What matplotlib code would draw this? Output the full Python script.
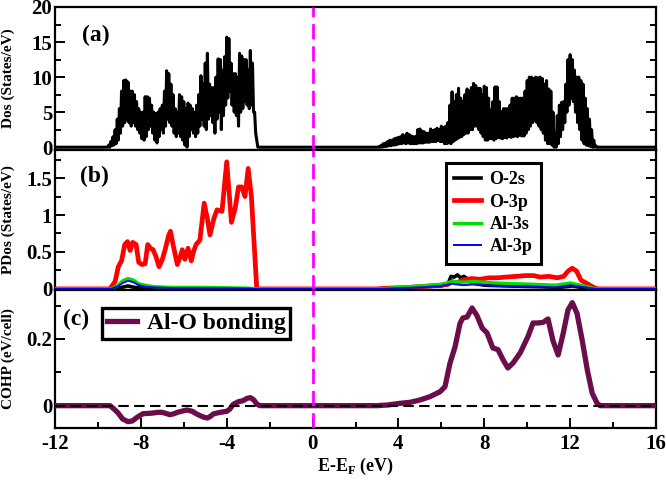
import numpy as np
import matplotlib
matplotlib.use("Agg")
import matplotlib.pyplot as plt
from matplotlib.ticker import MultipleLocator, FormatStrFormatter

plt.rcParams['font.family'] = ['Liberation Serif', 'DejaVu Serif']
plt.rcParams['font.weight'] = 'bold'
plt.rcParams['mathtext.fontset'] = 'custom'
plt.rcParams['mathtext.rm'] = 'Liberation Serif:bold'
plt.rcParams['mathtext.bf'] = 'Liberation Serif:bold'
plt.rcParams['axes.linewidth'] = 1.6
plt.rcParams['axes.unicode_minus'] = False

# ---------------- data: total DOS (upper / lower envelope of the oscillation) -------------
E_vb = np.round(np.arange(-9.6, -2.45, 0.1), 2)
dos_vb_hi = [0, 0.3, 0.8, 1.5, 2.5, 4.0, 5.5, 8.0, 9.5, 9.6,
             9.3, 8.0, 8.0, 7.5, 6.5, 5.5, 5.0, 5.0, 7.2, 7.2,
             7.0, 6.0, 5.0, 4.8, 5.0, 5.5, 6.0, 8.0, 10.9, 10.5,
             9.0, 7.5, 5.5, 5.0, 7.5, 7.2, 6.5, 5.5, 6.3, 6.0,
             5.5, 5.0, 6.0, 7.5, 10.2, 9.0, 12.0, 13.4, 9.0, 8.5,
             8.5, 10.0, 12.6, 12.5, 11.0, 12.9, 15.7, 15.5, 12.0, 10.5,
             10.5, 10.0, 13.4, 13.0, 12.5, 12.5, 11.0, 13.8, 12.0, 5.0,
             1.0, 0.0]
dos_vb_lo = [0, 0, 0.2, 0.3, 0.5, 1.0, 2.0, 3.0, 3.5, 4.0,
             3.5, 3.0, 3.5, 3.0, 2.5, 2.0, 1.2, 1.0, 1.5, 2.5,
             3.0, 2.0, 1.0, 0.6, 1.5, 2.5, 2.0, 3.0, 4.0, 3.5,
             3.0, 2.0, 1.5, 2.0, 1.5, 1.0, 0.3, 0.0, 1.5, 2.5,
             2.0, 1.5, 2.0, 3.0, 4.0, 3.0, 2.5, 4.0, 4.5, 3.5,
             2.0, 4.0, 5.0, 2.5, 4.5, 6.0, 7.0, 8.0, 6.0, 5.0,
             4.5, 3.0, 5.0, 5.5, 6.5, 6.0, 5.5, 6.0, 5.0, 2.0,
             0.0, 0.0]
E_cb = np.round(np.arange(3.0, 13.35, 0.1), 2)
dos_cb_hi = [0, 0.1, 0.3, 0.5, 0.6, 0.8, 1.0, 1.0, 1.2, 1.3,
             1.4, 1.5, 1.8, 1.6, 2.0, 1.8, 1.6, 1.5, 1.5, 2.5,
             2.6, 2.3, 2.2, 2.0, 2.0, 2.6, 2.4, 2.5, 2.7, 2.5,
             3.0, 2.8, 3.0, 3.5, 6.0, 7.9, 6.5, 7.5, 8.4, 7.0,
             6.5, 7.5, 8.3, 8.0, 8.5, 9.1, 8.8, 8.4, 8.4, 7.5,
             8.7, 8.5, 7.0, 5.3, 6.5, 8.6, 8.6, 6.5, 5.1, 5.5,
             5.5, 5.5, 6.0, 7.0, 7.0, 7.2, 7.0, 7.0, 7.0, 8.0,
             9.5, 10.0, 10.0, 9.8, 10.0, 9.9, 10.0, 9.8, 9.0, 9.5,
             8.3, 8.0, 5.0, 1.0, 4.5, 6.0, 6.4, 6.5, 9.0, 12.5,
             13.2, 12.5, 11.0, 10.0, 10.0, 9.5, 9.0, 7.0, 5.5, 4.0,
             2.5, 1.0, 0.2, 0]
dos_cb_lo = [0, 0, 0, 0.1, 0.1, 0.2, 0.2, 0.3, 0.3, 0.4,
             0.5, 0.5, 0.6, 0.5, 0.6, 0.5, 0.5, 0.5, 0.5, 0.6,
             0.6, 0.6, 0.7, 0.7, 0.7, 0.8, 0.8, 0.8, 1.0, 0.8,
             0.8, 0.5, 0.5, 0.6, 0.5, 0.8, 1.0, 1.2, 1.4, 1.5,
             1.8, 2.0, 2.0, 2.5, 2.5, 3.0, 3.0, 2.5, 2.0, 1.5,
             1.0, 1.0, 1.2, 1.2, 1.0, 1.2, 1.4, 1.3, 1.2, 1.4,
             1.3, 1.5, 1.4, 1.5, 1.6, 1.5, 1.7, 1.6, 1.6, 2.0,
             2.5, 3.0, 3.5, 3.8, 3.5, 3.0, 2.5, 2.0, 1.0, 0.5,
             0.5, 0.3, 0, 0, 0.5, 1.5, 2.5, 3.5, 5.0, 6.0,
             7.0, 6.5, 5.0, 3.5, 2.5, 1.0, 0.5, 0.3, 0.2, 0.1,
             0, 0, 0, 0]

# ---------------- data: partial DOS ----------------
E_o3p = [-12, -9.44, -9.2, -9.05, -8.9, -8.75, -8.62, -8.5, -8.38, -8.22,
         -8.1, -7.95, -7.8, -7.68, -7.55, -7.43, -7.3, -7.15, -7.0, -6.87,
         -6.7, -6.62, -6.5, -6.3, -6.15, -6.07, -5.95, -5.8, -5.65, -5.55,
         -5.43, -5.25, -5.05, -4.9, -4.78, -4.6, -4.45, -4.22, -4.0, -3.78,
         -3.6, -3.45, -3.3, -3.15, -3.0, -2.85, -2.6, 3.0, 3.5, 4.5,
         5.5, 6.3, 6.5, 6.7, 7.0, 7.4, 7.8, 8.2, 8.6, 9.0,
         9.5, 9.9, 10.3, 10.6, 11.0, 11.4, 11.7, 11.9, 12.1, 12.3,
         12.5, 12.8, 13.1, 13.3, 16]
pdos_o3p = [0, 0, 0.1, 0.3, 0.38, 0.6, 0.64, 0.52, 0.63, 0.6,
            0.36, 0.33, 0.34, 0.6, 0.55, 0.53, 0.44, 0.3, 0.4, 0.53,
            0.73, 0.78, 0.6, 0.33, 0.45, 0.53, 0.4, 0.55, 0.38, 0.5,
            0.6, 0.66, 1.16, 0.95, 0.73, 0.95, 1.07, 1.05, 1.72, 0.9,
            1.1, 1.38, 1.38, 1.25, 1.63, 1.25, 0, 0, 0.01, 0.02,
            0.04, 0.06, 0.1, 0.08, 0.12, 0.14, 0.13, 0.15, 0.15, 0.16,
            0.17, 0.18, 0.18, 0.16, 0.17, 0.15, 0.17, 0.24, 0.28, 0.24,
            0.12, 0.07, 0.02, 0, 0]
E_o2s = [-12, -9.3, -8.9, -8.6, -8.3, -7.5, -2.6, 3.0, 4.5, 6.0,
         6.3, 6.45, 6.6, 6.75, 6.9, 7.05, 7.2, 7.4, 8.0, 9.0,
         10.5, 11.5, 12.1, 12.5, 13.2, 16]
pdos_o2s = [0, 0, 0.02, 0.04, 0.02, 0.005, 0, 0, 0.02, 0.04,
            0.06, 0.17, 0.16, 0.19, 0.15, 0.17, 0.14, 0.08, 0.05, 0.04,
            0.03, 0.02, 0.04, 0.02, 0, 0]
E_al = [-12, -9.4, -9.1, -8.85, -8.6, -8.35, -8.1, -7.8, -7.4, -6.5,
        -5.0, -3.0, -2.6, 3.2, 4.0, 5.0, 6.0, 6.5, 7.0, 7.5,
        8.5, 9.5, 10.5, 11.3, 12.0, 12.5, 13.2, 16]
pdos_al3s = [0, 0, 0.04, 0.11, 0.14, 0.12, 0.07, 0.05, 0.03, 0.02,
             0.02, 0.01, 0, 0, 0.02, 0.04, 0.06, 0.1, 0.09, 0.1,
             0.08, 0.07, 0.06, 0.05, 0.08, 0.05, 0, 0]
pdos_al3p = [0, 0, 0.03, 0.08, 0.11, 0.09, 0.05, 0.03, 0.02, 0.01,
             0.01, 0.005, 0, 0, 0.01, 0.02, 0.04, 0.07, 0.05, 0.06,
             0.04, 0.04, 0.03, 0.02, 0.05, 0.03, 0, 0]

# ---------------- data: COHP ----------------
E_cohp = [-12, -9.6, -9.44, -9.25, -9.06, -8.85, -8.6, -8.4, -8.2, -7.9,
          -7.6, -7.43, -7.2, -7.0, -6.8, -6.64, -6.45, -6.3, -6.05, -5.85,
          -5.6, -5.4, -5.24, -5.05, -4.9, -4.75, -4.63, -4.45, -4.3, -4.0,
          -3.85, -3.7, -3.45, -3.24, -3.05, -2.9, -2.75, -2.6, -2.45, 0,
          3.0, 3.5, 4.07, 4.54, 5.0, 5.47, 5.94, 6.17, 6.4, 6.64,
          6.87, 7.0, 7.2, 7.43, 7.66, 7.9, 8.13, 8.4, 8.64, 8.88,
          9.1, 9.34, 9.67, 10.04, 10.27, 10.5, 10.74, 10.97, 11.2, 11.44,
          11.67, 11.9, 12.1, 12.32, 12.56, 12.8, 13.03, 13.26, 13.4, 16]
cohp = [0, 0, 0, -0.01, -0.022, -0.04, -0.048, -0.046, -0.036, -0.024,
        -0.023, -0.022, -0.02, -0.02, -0.024, -0.027, -0.024, -0.02, -0.016, -0.013,
        -0.017, -0.025, -0.03, -0.035, -0.037, -0.032, -0.025, -0.022, -0.02, -0.017,
        -0.01, 0.004, 0.012, 0.015, 0.022, 0.024, 0.018, 0.005, 0, 0,
        0, 0.002, 0.007, 0.01, 0.017, 0.027, 0.042, 0.057, 0.127, 0.177,
        0.247, 0.263, 0.266, 0.293, 0.27, 0.233, 0.218, 0.173, 0.168, 0.137,
        0.113, 0.128, 0.158, 0.208, 0.248, 0.248, 0.25, 0.26, 0.195, 0.152,
        0.215, 0.287, 0.309, 0.277, 0.197, 0.107, 0.037, 0.007, 0, 0]

xticks = [-12, -8, -4, 0, 4, 8, 12, 16]
pdos_labels = ['O-2s', 'O-3p', 'Al-3s', 'Al-3p']
cohp_label = 'Al-O bonding'


def zigzag(E, hi, lo):
    xs, ys = [], []
    for e, h, l in zip(E, hi, lo):
        xs += [e, e + 0.05]
        ys += [h, l]
    return xs, ys


fig = plt.figure(figsize=(6.66, 4.8), dpi=100)
L, W = 55 / 666, 601 / 666
axa = fig.add_axes([L, 1 - 150 / 480, W, 143 / 480])
axb = fig.add_axes([L, 1 - 290 / 480, W, 140 / 480])
axc = fig.add_axes([L, 1 - 428 / 480, W, 138 / 480])

maroon = '#6b0d4b'

# panel a
xv, yv = zigzag(E_vb, dos_vb_hi, dos_vb_lo)
xc, yc = zigzag(E_cb, dos_cb_hi, dos_cb_lo)
xa = [-12] + xv + xc + [16]
ya = [0] + yv + yc + [0]
axa.plot(xa, ya, color='black', lw=2.2)
axa.set_ylim(-0.4, 20)
axa.yaxis.set_major_locator(MultipleLocator(5))
axa.yaxis.set_minor_locator(MultipleLocator(2.5))
axa.set_ylabel('Dos (States/eV)', fontsize=11, fontweight='bold')
axa.text(0.045, 0.80, '(a)', transform=axa.transAxes, fontsize=17,
         fontweight='bold', va='center')

# panel b
axb.plot(E_o2s, pdos_o2s, color='black', lw=2.6, label=pdos_labels[0], zorder=2)
axb.plot(E_o3p, pdos_o3p, color='#ff0000', lw=3.4, label=pdos_labels[1], zorder=3)
axb.plot(E_al, pdos_al3s, color='#00e000', lw=2.4, label=pdos_labels[2], zorder=4)
axb.plot(E_al, pdos_al3p, color='#0000ff', lw=1.4, label=pdos_labels[3], zorder=5)
axb.set_ylim(-0.015, 1.88)
axb.yaxis.set_major_locator(MultipleLocator(0.5))
axb.yaxis.set_minor_locator(MultipleLocator(0.25))
axb.yaxis.set_major_formatter(FormatStrFormatter('%g'))
axb.set_ylabel('PDos (States/eV)', fontsize=11, fontweight='bold')
axb.text(0.042, 0.81, '(b)', transform=axb.transAxes, fontsize=17,
         fontweight='bold', va='center')
legb = axb.legend(loc='upper left', bbox_to_anchor=(0.651, 0.907), borderaxespad=0,
                  fontsize=13, frameon=True, fancybox=False, edgecolor='black',
                  handlelength=1.45, handletextpad=0.5, labelspacing=0.3,
                  borderpad=0.45, framealpha=1)
legb.get_frame().set_linewidth(2.2)

# panel c
axc.plot(E_cohp, cohp, color=maroon, lw=3.8, label=cohp_label,
         solid_joinstyle='round', zorder=3)
axc.axhline(0, color='black', lw=1.5, dashes=(5, 2.6), zorder=4)
axc.set_ylim(-0.067, 0.347)
axc.yaxis.set_major_locator(MultipleLocator(0.2))
axc.yaxis.set_minor_locator(MultipleLocator(0.1))
axc.yaxis.set_major_formatter(FormatStrFormatter('%g'))
axc.set_ylabel('COHP (eV/cell)', fontsize=11, fontweight='bold')
axc.text(0.013, 0.79, '(c)', transform=axc.transAxes, fontsize=17,
         fontweight='bold', va='center')
legc = axc.legend(loc='upper left', bbox_to_anchor=(0.078, 0.87), borderaxespad=0,
                  fontsize=17, frameon=True, fancybox=False, edgecolor='black',
                  handlelength=1.3, handletextpad=0.4, borderpad=0.2, framealpha=1)
legc.get_frame().set_linewidth(2.4)
axc.set_xlabel('E-E$_\\mathrm{F}$ (eV)', fontsize=13, fontweight='bold')
axc.xaxis.set_label_coords(0.5, -0.2)

for ax in (axa, axb, axc):
    ax.set_xlim(-12, 16)
    ax.axvline(0, color='#ff00ff', lw=2, dashes=(5.5, 2.5), zorder=6)
    ax.set_xticks(xticks)
    ax.xaxis.set_minor_locator(MultipleLocator(2))
    ax.tick_params(axis='both', which='both', direction='in', right=True, top=False,
                   labelsize=15, width=1.4)
    ax.tick_params(which='major', length=7)
    ax.tick_params(which='minor', length=4)
    ax.tick_params(axis='y', pad=2)
    ax.tick_params(axis='x', pad=4)
    ax.yaxis.set_label_coords(-0.066, 0.5)
    for t in ax.get_xticklabels() + ax.get_yticklabels():
        t.set_fontweight('bold')

for ax in (axa, axb):
    ax.tick_params(axis='x', which='both', bottom=False, labelbottom=False)

fig.savefig('out.png', dpi=100)
